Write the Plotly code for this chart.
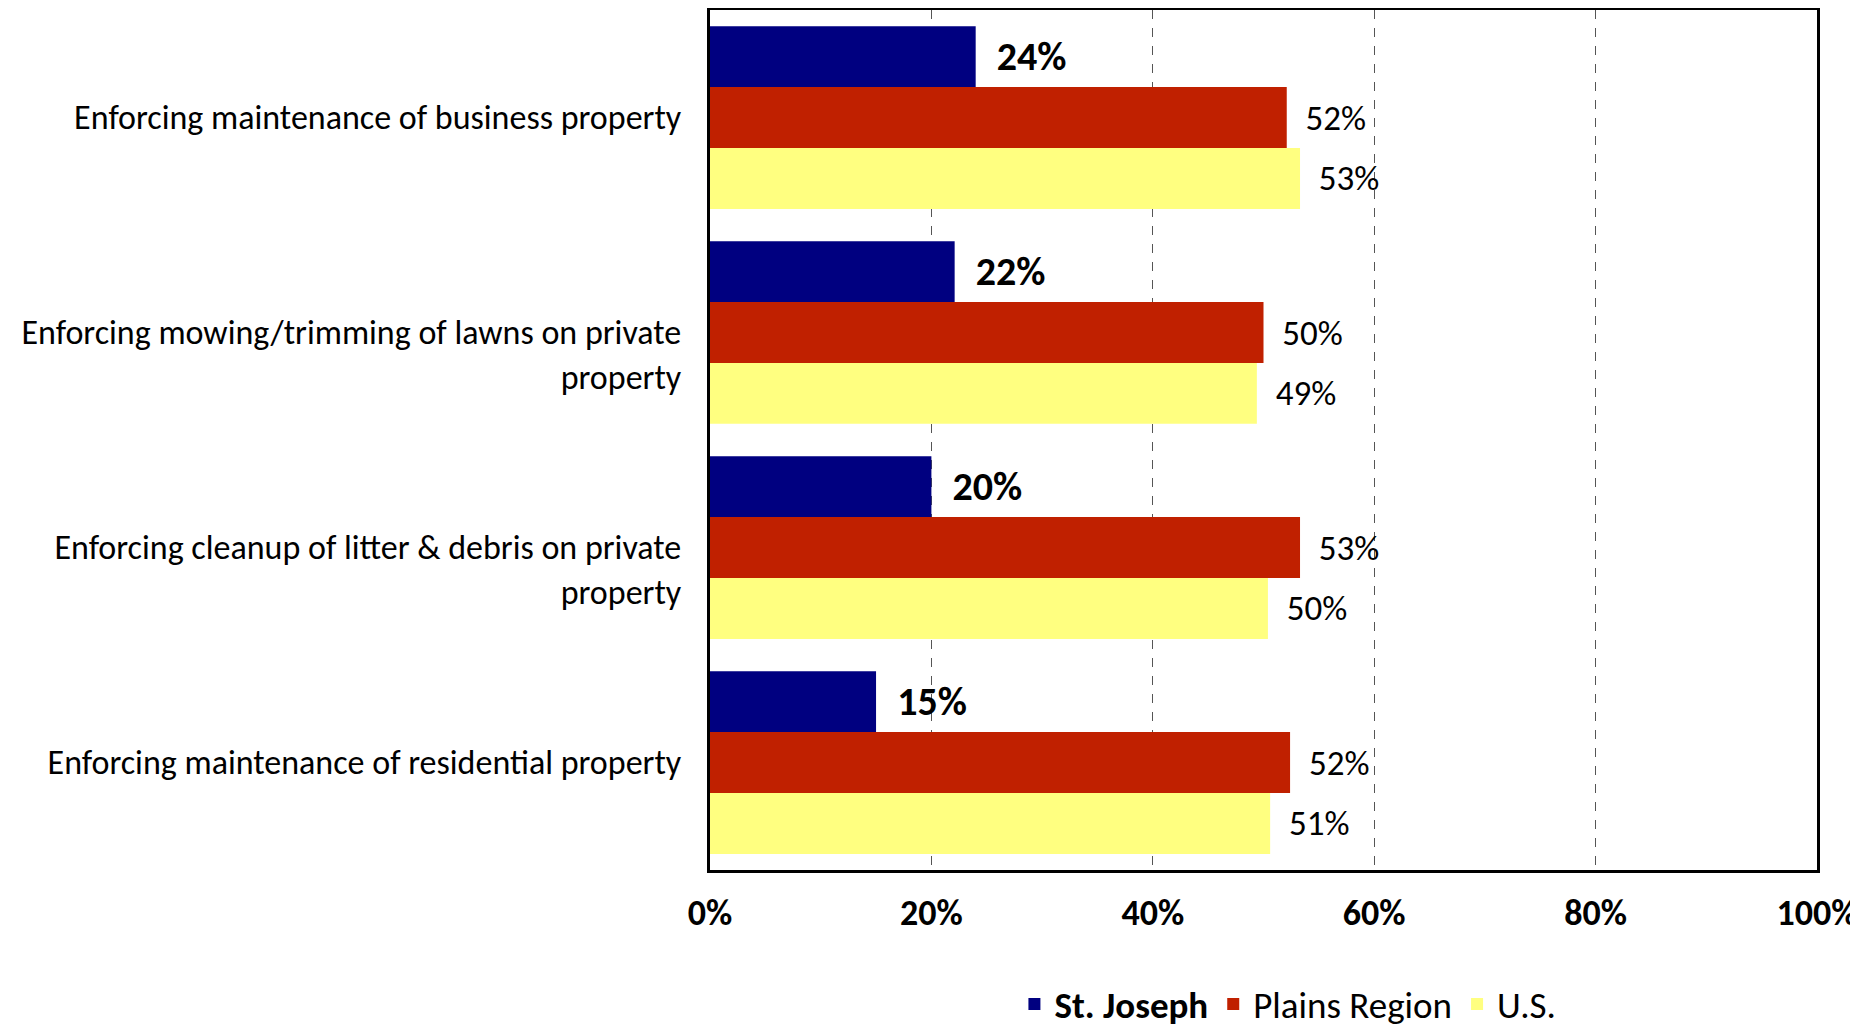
import plotly.graph_objects as go

categories = [
    "Enforcing maintenance of business property",
    "\u00a0<br>Enforcing mowing/trimming of lawns on private<br>property",
    "\u00a0<br>Enforcing cleanup of litter & debris on private<br>property",
    "Enforcing maintenance of residential property",
]
st_joseph = [24.0, 22.1, 20.0, 15.0]
plains = [52.1, 50.0, 53.3, 52.4]
us = [53.3, 49.4, 50.4, 50.6]

series_names = ["<b>St. Joseph</b>", "Plains Region", "U.S."]
series_values = [st_joseph, plains, us]
colors = ["#000080", "#C02000", "#FFFF80"]
label_bold = [True, False, False]
tick_vals = [0, 20, 40, 60, 80, 100]
tick_text = ["0%", "20%", "40%", "60%", "80%", "100%"]

FONT = "Calibri, Carlito, Lato, sans-serif"
NB = "\u00a0\u00a0"

fig = go.Figure()
for name, vals, col, bold in zip(series_names, series_values, colors, label_bold):
    txt = [f"{NB}<b>{v:.0f}%</b>" if bold else f"{NB}{v:.0f}%" for v in vals]
    fig.add_trace(go.Bar(
        y=categories, x=vals, orientation="h", name=name,
        marker=dict(color=col, line=dict(width=0)),
        text=txt, textposition="outside", cliponaxis=False,
        textfont=dict(family=FONT, size=40 if bold else 35, color="black"),
        hoverinfo="x+y",
    ))

fig.update_layout(
    barmode="group", bargap=0.15, bargroupgap=0,
    width=1858, height=1028,
    margin=dict(l=702, r=49, t=2, b=165),
    plot_bgcolor="white", paper_bgcolor="white",
    font=dict(family=FONT, size=34, color="black"),
    showlegend=True,
    legend=dict(orientation="h", x=0.275, xanchor="left", y=-0.191, yanchor="bottom",
                font=dict(family=FONT, size=37, color="black"),
                traceorder="normal", itemwidth=30, bgcolor="rgba(0,0,0,0)"),
    uniformtext=dict(mode=False),
)
fig.update_xaxes(
    range=[0, 100], tickvals=tick_vals, ticktext=tick_text,
    tickfont=dict(family=FONT, size=36, color="black", weight="bold"),
    showgrid=True, gridcolor="#555555", griddash="dash", gridwidth=1,
    showline=True, linecolor="black", linewidth=3, mirror=True,
    ticks="", ticklabelstandoff=9, zeroline=False, automargin=False,
)
fig.update_yaxes(
    autorange="reversed", categoryorder="array", categoryarray=categories,
    tickfont=dict(family=FONT, size=34, color="black"),
    showline=True, linecolor="black", linewidth=3, mirror=True,
    ticks="", ticklabelstandoff=19, showgrid=False, automargin=False,
)
fig.write_html("out.html")
